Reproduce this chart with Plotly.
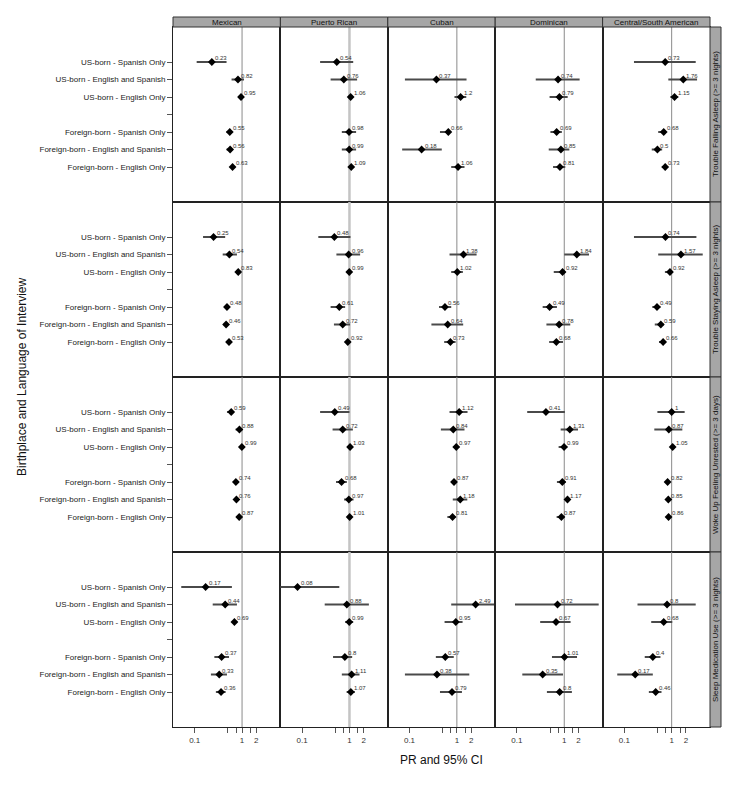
import math
import plotly.graph_objects as go
from plotly.subplots import make_subplots

groups = ["Mexican", "Puerto Rican", "Cuban", "Dominican", "Central/South American"]
outcomes = ["Trouble Falling Asleep (>= 3 nights)", "Trouble Staying Asleep (>= 3 nights)",
            "Woke Up Feeling Unrested (>= 3 days)", "Sleep Medication Use (>= 3 nights)"]
categories = ["US-born - Spanish Only", "US-born - English and Spanish", "US-born - English Only", "",
              "Foreign-born - Spanish Only", "Foreign-born - English and Spanish", "Foreign-born - English Only"]

# one list per group (Mexican, Puerto Rican, Cuban, Dominican, C/S American)
# order inside: US Span, US Eng+Span, US Eng, FB Span, FB Eng+Span, FB Eng
pr_fall = [[0.23, 0.82, 0.95, 0.55, 0.56, 0.63],
           [0.54, 0.76, 1.06, 0.98, 0.99, 1.09],
           [None, 0.37, 1.2, 0.66, 0.18, 1.06],
           [None, 0.74, 0.79, 0.69, 0.85, 0.81],
           [0.73, 1.76, 1.15, 0.68, 0.5, 0.73]]
lo_fall = [[0.11, 0.60, 0.85, 0.47, 0.47, 0.57],
           [0.24, 0.40, 0.94, 0.69, 0.69, 0.97],
           [None, 0.08, 0.89, 0.44, 0.07, 0.76],
           [None, 0.25, 0.49, 0.51, 0.47, 0.58],
           [0.16, 0.85, 0.94, 0.52, 0.38, 0.62]]
hi_fall = [[0.47, 1.10, 1.03, 0.62, 0.63, 0.68],
           [1.20, 1.45, 1.20, 1.38, 1.38, 1.20],
           [None, 1.60, 1.58, 0.70, 0.48, 1.45],
           [None, 2.11, 1.18, 0.89, 1.28, 1.05],
           [3.22, 3.44, 1.38, 0.72, 0.63, 0.80]]

pr_stay = [[0.25, 0.54, 0.83, 0.48, 0.46, 0.53],
           [0.48, 0.96, 0.99, 0.61, 0.72, 0.92],
           [None, 1.38, 1.02, 0.56, 0.64, 0.73],
           [None, 1.84, 0.92, 0.49, 0.78, 0.68],
           [0.74, 1.57, 0.92, 0.49, 0.59, 0.66]]
lo_stay = [[0.15, 0.39, 0.79, 0.44, 0.41, 0.48],
           [0.22, 0.53, 0.94, 0.40, 0.47, 0.86],
           [None, 0.70, 0.76, 0.42, 0.29, 0.54],
           [None, 1.00, 0.60, 0.35, 0.42, 0.48],
           [0.16, 0.52, 0.72, 0.39, 0.44, 0.54]]
hi_stay = [[0.44, 0.78, 0.89, 0.53, 0.51, 0.59],
           [1.05, 1.68, 1.05, 0.81, 1.03, 0.97],
           [None, 2.61, 1.34, 0.76, 1.36, 0.94],
           [None, 3.33, 1.05, 0.70, 1.34, 0.94],
           [3.33, 4.53, 1.03, 0.58, 0.68, 0.72]]

pr_unrest = [[0.59, 0.88, 0.99, 0.74, 0.76, 0.87],
             [0.49, 0.72, 1.03, 0.68, 0.97, 1.01],
             [1.12, 0.84, 0.97, 0.87, 1.18, 0.81],
             [0.41, 1.31, 0.99, 0.91, 1.17, 0.87],
             [1.0, 0.87, 1.05, 0.82, 0.85, 0.86]]
lo_unrest = [[0.48, 0.73, 0.95, 0.71, 0.73, 0.82],
             [0.24, 0.44, 0.99, 0.52, 0.77, 0.97],
             [0.70, 0.46, 0.85, 0.79, 0.82, 0.63],
             [0.165, 0.84, 0.76, 0.70, 1.06, 0.69],
             [0.50, 0.43, 1.00, 0.78, 0.80, 0.82]]
hi_unrest = [[0.67, 1.02, 1.03, 0.77, 0.79, 0.92],
             [1.00, 1.18, 1.07, 0.88, 1.22, 1.05],
             [1.68, 1.45, 1.12, 0.96, 1.66, 0.94],
             [1.03, 1.95, 1.16, 1.07, 1.26, 1.01],
             [1.88, 1.68, 1.10, 0.86, 0.89, 0.90]]

pr_med = [[0.17, 0.44, 0.69, 0.37, 0.33, 0.36],
          [0.08, 0.88, 0.99, 0.8, 1.11, 1.07],
          [None, 2.49, 0.95, 0.57, 0.38, 0.79],
          [None, 0.72, 0.67, 1.01, 0.35, 0.8],
          [None, 0.8, 0.68, 0.4, 0.17, 0.46]]
lo_med = [[0.052, 0.24, 0.62, 0.26, 0.22, 0.28],
          [0.03, 0.30, 0.81, 0.45, 0.69, 0.87],
          [None, 0.76, 0.55, 0.36, 0.08, 0.44],
          [None, 0.091, 0.31, 0.55, 0.13, 0.43],
          [None, 0.19, 0.37, 0.27, 0.071, 0.33]]
hi_med = [[0.61, 0.78, 0.76, 0.53, 0.48, 0.45],
          [0.61, 2.57, 1.20, 1.14, 1.63, 1.30],
          [None, 7.5, 1.32, 0.86, 1.83, 1.28],
          [None, 5.33, 1.36, 1.86, 0.94, 1.45],
          [None, 3.22, 1.03, 0.58, 0.40, 0.61]]

x_ticks = [0.1, 0.5, 0.75, 1, 1.5, 2]
x_ticktext = ["0.1", "", "", "1", "", "2"]

pr_all = [pr_fall, pr_stay, pr_unrest, pr_med]
lo_all = [lo_fall, lo_stay, lo_unrest, lo_med]
hi_all = [hi_fall, hi_stay, hi_unrest, hi_med]

FONT = "Liberation Sans, Arial, sans-serif"
cat_pos = [i + 1 for i, c in enumerate(categories) if c]

fig = make_subplots(rows=4, cols=5, horizontal_spacing=0, vertical_spacing=0)

for r in range(4):
    for c in range(5):
        n = r * 5 + c + 1
        xr = "x" if n == 1 else f"x{n}"
        yr = "y" if n == 1 else f"y{n}"
        # reference line at PR = 1
        ref_col = "#c4c4c4" if c == 1 else "#8a8a8a"
        fig.add_trace(go.Scatter(x=[1, 1], y=[-1, 9], mode="lines",
                                 line=dict(color=ref_col, width=2.5 if c == 1 else 1),
                                 hoverinfo="skip", showlegend=False), row=r + 1, col=c + 1)
        xs, ys, ep, em = [], [], [], []
        for k in range(6):
            v = pr_all[r][c][k]
            if v is None:
                continue
            xs.append(v)
            ys.append(cat_pos[k])
            ep.append(hi_all[r][c][k] - v)
            em.append(v - lo_all[r][c][k])
            # value label just above and right of the point (log axis -> log10 x)
            fig.add_annotation(xref=xr, yref=yr, x=math.log10(v), y=cat_pos[k],
                               text=f"{v:g}", showarrow=False, xanchor="left",
                               yanchor="bottom", xshift=2, yshift=0, borderpad=0,
                               font=dict(size=6, color="#333333", family=FONT))
        fig.add_trace(go.Scatter(
            x=xs, y=ys, mode="markers",
            marker=dict(symbol="diamond", size=6, color="black"),
            error_x=dict(type="data", symmetric=False, array=ep, arrayminus=em,
                         thickness=2, width=0, color="#4a4a4a"),
            showlegend=False), row=r + 1, col=c + 1)

        fig.update_xaxes(type="log", range=[math.log10(0.0348), math.log10(6.45)],
                         showline=True, mirror=True, linecolor="#222222", linewidth=1,
                         showgrid=False, zeroline=False,
                         tickvals=x_ticks, ticktext=x_ticktext,
                         ticks="outside" if r == 3 else "", ticklen=5, tickcolor="#555555",
                         showticklabels=(r == 3),
                         tickfont=dict(size=8, color="#333333", family=FONT),
                         row=r + 1, col=c + 1)
        fig.update_yaxes(range=[9, -1], showline=True, mirror=True, linecolor="#222222",
                         linewidth=1, showgrid=False, zeroline=False,
                         tickvals=list(range(1, 8)), ticktext=categories,
                         ticks="outside" if c == 0 else "", ticklen=5, tickcolor="#555555",
                         showticklabels=(c == 0),
                         tickfont=dict(size=8, color="#222222", family=FONT),
                         row=r + 1, col=c + 1)

# page body keeps an 8px margin, so the figure is 16px smaller than the window
W, H = 722, 783
L, R, T, B = 165, 20, 19, 64
pw = W - L - R
ph = H - T - B
for c, g in enumerate(groups):
    fig.add_shape(type="rect", xref="paper", yref="paper",
                  x0=c / 5, x1=(c + 1) / 5, y0=1, y1=1 + 10 / ph,
                  fillcolor="#a6a6a6", line=dict(color="#333333", width=1))
    fig.add_annotation(xref="paper", yref="paper", x=(c + 0.5) / 5, y=1 + 5 / ph,
                       text=g, showarrow=False, xanchor="center", yanchor="middle",
                       font=dict(size=8, color="#111111", family=FONT))
for r, o in enumerate(outcomes):
    fig.add_shape(type="rect", xref="paper", yref="paper",
                  x0=1, x1=1 + 11 / pw, y0=1 - (r + 1) / 4, y1=1 - r / 4,
                  fillcolor="#a6a6a6", line=dict(color="#333333", width=1))
    fig.add_annotation(xref="paper", yref="paper", x=1 + 5.5 / pw, y=1 - (r + 0.5) / 4,
                       text=o, showarrow=False, textangle=-90,
                       xanchor="center", yanchor="middle",
                       font=dict(size=8, color="#111111", family=FONT))

fig.add_annotation(xref="paper", yref="paper", x=0.5, y=-33 / ph, text="PR and 95% CI",
                   showarrow=False, xanchor="center", yanchor="middle",
                   font=dict(size=12, color="#111111", family=FONT))
fig.add_annotation(xref="paper", yref="paper", x=(14 - L) / pw, y=0.5,
                   text="Birthplace and Language of Interview", showarrow=False,
                   textangle=-90, xanchor="center", yanchor="middle",
                   font=dict(size=12, color="#111111", family=FONT))

fig.update_layout(width=W, height=H, margin=dict(l=L, r=R, t=T, b=B),
                  plot_bgcolor="white", paper_bgcolor="white",
                  font=dict(family=FONT))

fig.write_html("out.html")
